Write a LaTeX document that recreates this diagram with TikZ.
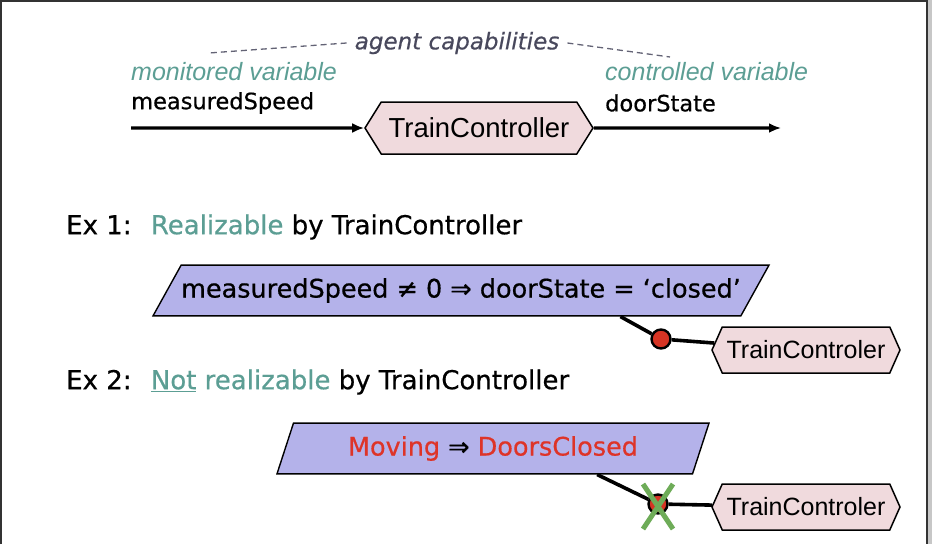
\documentclass[tikz,border=0pt]{standalone}
\usepackage{fontspec}
\setmainfont[FakeBold=0.6]{DejaVu Sans}
\newfontfamily\helv{Liberation Sans}
\usepackage{xcolor}
\usepackage{tikz}
\usetikzlibrary{shapes.geometric, shapes.symbols, arrows.meta, positioning, calc}
\definecolor{tealtxt}{RGB}{92,158,148}
\definecolor{capgray}{RGB}{72,72,92}
\definecolor{hexpink}{RGB}{240,218,221}
\definecolor{goalblue}{RGB}{180,178,234}
\definecolor{dotred}{RGB}{214,52,36}
\definecolor{txtred}{RGB}{222,52,40}
\definecolor{crossgreen}{RGB}{110,172,88}
\tikzstyle{agent}   = [signal, signal to=west and east, draw=black, line width=1.5pt,
                       fill=hexpink, inner sep=0pt, font=\helv\fontsize{25}{30}\selectfont]
\tikzstyle{goal}    = [trapezium, trapezium stretches body, draw=black, line width=1.4pt,
                       fill=goalblue, inner xsep=0pt, inner ysep=13pt, minimum height=49,
                       font=\fontsize{25.5}{30}\selectfont]
\tikzstyle{assign}  = [circle, draw=black, line width=2.4pt, fill=dotred,
                       minimum size=19pt, inner sep=0pt]
\tikzstyle{vartext} = [anchor=west, inner sep=0pt, font=\fontsize{22.5}{27}\selectfont]
\tikzstyle{kindtext}= [anchor=west, inner sep=0pt, text=tealtxt,
                       font=\helv\itshape\fontsize{25}{30}\selectfont]
\tikzstyle{extext}  = [anchor=west, inner sep=0pt, font=\fontsize{26}{30}\selectfont]
\tikzstyle{captext} = [inner ysep=0pt, inner xsep=8pt, text=capgray,
                       font=\itshape\fontsize{23}{28}\selectfont]
\tikzstyle{capline} = [dashed, line width=1.3pt, capgray!85, dash pattern=on 6pt off 4pt]
\tikzstyle{flow}    = [line width=3.3pt, -{Latex[length=12pt,width=10pt]}]
\tikzstyle{link}    = [line width=3.6pt]
\tikzstyle{cross}   = [line width=5pt, crossgreen]

\begin{document}
\begin{tikzpicture}[x=1pt, y=-1pt]
    \useasboundingbox (0,0) rectangle (932,544);
    % slide frame
    \fill[black!22] (928,0) rectangle (932,544);
    \draw[line width=2pt, black!80] (1,544) -- (1,1) -- (927,1) -- (927,544);

    % agent and its variables
    \node (cap) [captext] at (457,43) {agent capabilities};
    \coordinate (capL) at (209,53);
    \coordinate (capR) at (670,57);
    \draw [capline] (cap.west) -- (capL);
    \draw [capline] (cap.east) -- (capR);

    \node (monV)  [kindtext] at (131,72)  {monitored variable};
    \node (measS) [vartext]  at (131,103) {measuredSpeed};
    \node (conV)  [kindtext] at (605,72)  {controlled variable};
    \node (doorS) [vartext]  at (605,103) {doorState};

    \node (ctrl) [agent, minimum width=228, minimum height=52, signal pointer angle=116,
                  font=\helv\fontsize{27.5}{30}\selectfont] at (479,128) {TrainController};
    \coordinate (inS)  at (131,128);
    \coordinate (outD) at (781,128);
    \draw [flow] (inS) -- (ctrl);
    \draw [flow] (ctrl) -- (outD);

    % example 1
    \node (ex1) [extext] at (66,227) {Ex 1:~ \textcolor{tealtxt}{Realizable} by TrainController};
    \node (pg1) [goal, minimum width=602, trapezium left angle=61, trapezium right angle=119]
        at (461,290.5) {measuredSpeed ≠ 0 ⇒ doorState = ‘closed’};
    \node (circA) [assign] at (661,339) {};
    \node (hexA) [agent, minimum width=188, minimum height=46, signal pointer angle=132]
        at (806,350) {TrainControler};
    \draw [link] ($(pg1.bottom left corner)!0.795!(pg1.bottom right corner)$) -- (circA);
    \draw [link] (circA) -- (hexA);

    % example 2
    \node (ex2) [extext] at (66,382)
        {Ex 2:~ \textcolor{tealtxt}{\underline{Not} realizable} by TrainController};
    \node (pg2) [goal, minimum width=432, trapezium left angle=72, trapezium right angle=108]
        at (493,448.5) {\textcolor{txtred}{Moving} ⇒ \textcolor{txtred}{DoorsClosed}};
    \node (circB) [assign] at (658,504) {};
    \node (hexB) [agent, minimum width=188, minimum height=46, signal pointer angle=132]
        at (806,507) {TrainControler};
    \draw [link] ($(pg2.bottom left corner)!0.77!(pg2.bottom right corner)$) -- (circB);
    \draw [link] (circB) -- (hexB);
    \draw [cross] ($(circB)+(-15,-20)$) -- ($(circB)+(15,25)$);
    \draw [cross] ($(circB)+(15,-20)$) -- ($(circB)+(-15,25)$);
\end{tikzpicture}
\end{document}
